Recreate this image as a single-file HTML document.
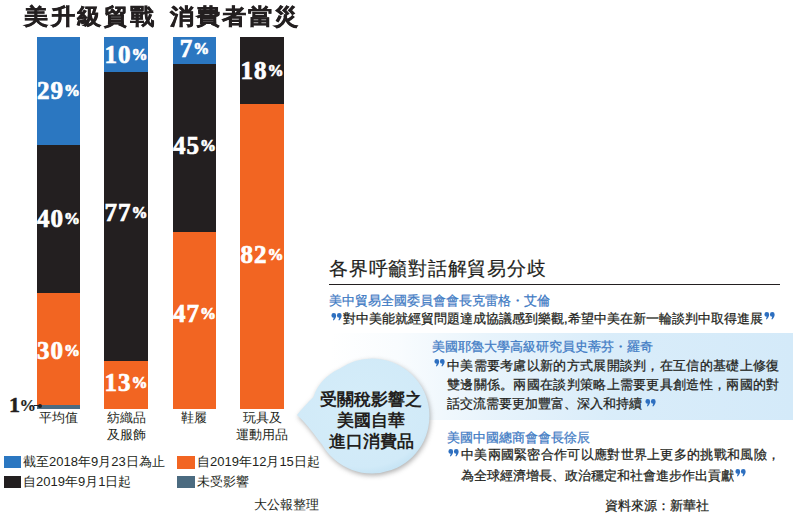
<!DOCTYPE html>
<html><head><meta charset="utf-8">
<style>
html,body{margin:0;padding:0;}
body{width:800px;height:523px;overflow:hidden;background:#fff;position:relative;font-family:"Liberation Sans",sans-serif;color:#231f20;}
.a{position:absolute;white-space:nowrap;}
.bar{position:absolute;top:37px;width:44px;height:372px;}
.seg{position:absolute;left:0;width:100%;}
.b{background:#2b77c1;}
.k{background:#231f20;}
.o{background:#f26522;}
.g{background:#4b6b80;}
.pct{position:absolute;left:0;width:100%;text-align:center;color:#fff;font-family:"Liberation Serif",serif;font-weight:bold;font-size:25px;line-height:20px;letter-spacing:1px;-webkit-text-stroke:0.7px #fff;}
.pct span{font-size:16px;position:relative;top:-3px;letter-spacing:0;}
.lab{position:absolute;text-align:center;font-size:13px;line-height:16.5px;color:#231f20;}
.leg{position:absolute;font-size:13px;line-height:14px;color:#231f20;}
.bl{font-size:13px;line-height:18px;color:#3f7bc4;-webkit-text-stroke:0.25px #3f7bc4;}
.tx{font-size:13px;line-height:18px;color:#231f20;-webkit-text-stroke:0.25px #231f20;}
.ttl{transform:scaleY(0.91);transform-origin:0 5px;top:2px;font-size:24px;letter-spacing:2.5px;font-weight:bold;line-height:32px;-webkit-text-stroke:0.6px #231f20;color:#231f20;}
.sq{position:absolute;width:17px;height:12px;}
</style></head><body>
<div class="a ttl" style="left:24px;">美升級貿戰</div><div class="a ttl" style="left:170px;letter-spacing:2.1px;">消費者當災</div>

<!-- bar 1 -->
<div class="bar" style="left:37px;width:43px;">
  <div class="seg b" style="top:0;height:108px;"></div>
  <div class="seg k" style="top:108px;height:148px;"></div>
  <div class="seg o" style="top:256px;height:112px;"></div>
  <div class="seg g" style="top:368px;height:4px;"></div>
  <div class="pct" style="top:44px;">29<span>%</span></div>
  <div class="pct" style="top:172px;">40<span>%</span></div>
  <div class="pct" style="top:304px;">30<span>%</span></div>
</div>
<!-- bar 2 -->
<div class="bar" style="left:104px;">
  <div class="seg b" style="top:0;height:35px;"></div>
  <div class="seg k" style="top:35px;height:289px;"></div>
  <div class="seg o" style="top:324px;height:48px;"></div>
  <div class="pct" style="top:8px;">10<span>%</span></div>
  <div class="pct" style="top:166px;">77<span>%</span></div>
  <div class="pct" style="top:336px;">13<span>%</span></div>
</div>
<!-- bar 3 -->
<div class="bar" style="left:173px;width:43px;">
  <div class="seg b" style="top:0;height:27px;"></div>
  <div class="seg k" style="top:27px;height:168px;"></div>
  <div class="seg o" style="top:195px;height:177px;"></div>
  <div class="pct" style="top:2px;">7<span>%</span></div>
  <div class="pct" style="top:99px;">45<span>%</span></div>
  <div class="pct" style="top:267px;">47<span>%</span></div>
</div>
<!-- bar 4 -->
<div class="bar" style="left:240px;">
  <div class="seg k" style="top:0;height:67px;"></div>
  <div class="seg o" style="top:67px;height:305px;"></div>
  <div class="pct" style="top:24px;">18<span>%</span></div>
  <div class="pct" style="top:208px;">82<span>%</span></div>
</div>

<!-- 1% label -->
<div class="a" style="left:9px;top:396px;font-family:'Liberation Serif',serif;font-weight:bold;font-size:22px;line-height:18px;color:#231f20;-webkit-text-stroke:0.5px #231f20;">1<span style="font-size:16.5px;position:relative;top:-1px;margin-left:-0.5px;-webkit-text-stroke:0.2px #231f20;">%</span></div>
<div class="a" style="left:34px;top:405px;width:6px;height:1px;background:#231f20;"></div>
<div class="a" style="left:38px;top:403.5px;width:4px;height:4px;border-radius:50%;background:#231f20;"></div>
<!-- bar labels -->
<div class="lab" style="left:28px;top:410px;width:60px;">平均值</div>
<div class="lab" style="left:96px;top:410px;width:60px;">紡織品<br>及服飾</div>
<div class="lab" style="left:164px;top:410px;width:60px;">鞋履</div>
<div class="lab" style="left:232px;top:410px;width:60px;">玩具及<br>運動用品</div>

<!-- legend -->
<div class="sq b" style="left:4px;top:456px;"></div>
<div class="leg" style="left:23px;top:455px;">截至2018年9月23日為止</div>
<div class="sq k" style="left:4px;top:476px;"></div>
<div class="leg" style="left:23px;top:475px;">自2019年9月1日起</div>
<div class="sq o" style="left:177px;top:456px;width:18px;height:12.5px;"></div>
<div class="leg" style="left:197px;top:455px;">自2019年12月15日起</div>
<div class="sq g" style="left:177px;top:476px;width:18px;"></div>
<div class="leg" style="left:197px;top:475px;">未受影響</div>
<div class="leg" style="left:254px;top:498px;">大公報整理</div>

<svg width="0" height="0" style="position:absolute"><defs><g id="q" fill="#2d6fc0"><path d="M2.8 0.1A2.35 2.35 0 0 1 5.1499999999999995 2.45C5.1499999999999995 4.6 4.0 6.2 2.5999999999999996 7.4L1.9000000000000001 7.0C2.4 6.2 2.5999999999999996 5.5 2.6999999999999997 4.8A2.35 2.35 0 0 1 2.8 0.1Z"/><path d="M8.3 0.1A2.35 2.35 0 0 1 10.649999999999999 2.45C10.649999999999999 4.6 9.5 6.2 8.1 7.4L7.4 7.0C7.9 6.2 8.1 5.5 8.2 4.8A2.35 2.35 0 0 1 8.3 0.1Z"/></g></defs></svg>
<!-- right panel glow -->
<div class="a" style="left:330px;top:333px;width:463px;height:87px;background:linear-gradient(90deg,rgba(212,234,249,0) 0%,rgba(212,234,249,0.15) 15%,rgba(212,234,249,0.55) 35%,rgba(212,234,249,0.88) 60%,#d4eaf9 100%);"></div>

<div class="a" id="rt" style="left:329px;top:256px;font-size:19px;letter-spacing:0.75px;line-height:26px;color:#231f20;-webkit-text-stroke:0.2px #231f20;">各界呼籲對話解貿易分歧</div>
<div class="a" style="left:329px;top:283.5px;width:451px;height:1.5px;background:#231f20;"></div>

<div class="a bl" style="left:329px;top:292px;">美中貿易全國委員會會長克雷格・艾倫</div>
<svg class="a" style="left:331px;top:313px;" width="11" height="7.5" viewBox="0 0 11 7.5"><use href="#q"/></svg>
<div class="a tx" style="left:343px;top:310px;">對中美能就經貿問題達成協議感到樂觀,希望中美在新一輪談判中取得進展</div>
<svg class="a" style="left:764px;top:312px;" width="11" height="7.5" viewBox="0 0 11 7.5"><use href="#q"/></svg>

<div class="a bl" style="left:432px;top:338px;">美國耶魯大學高級研究員史蒂芬・羅奇</div>
<svg class="a" style="left:434px;top:359px;" width="11" height="7.5" viewBox="0 0 11 7.5"><use href="#q"/></svg>
<div class="a tx" style="left:447px;top:357px;letter-spacing:0.3px;line-height:18.75px;">中美需要考慮以新的方式展開談判，在互信的基礎上修復<br>雙邊關係。兩國在談判策略上需要更具創造性，兩國的對<br><span style="letter-spacing:0">話交流需要更加豐富、深入和持續</span></div>
<svg class="a" style="left:645px;top:399px;" width="11" height="7.5" viewBox="0 0 11 7.5"><use href="#q"/></svg>

<div class="a bl" style="left:447px;top:428.5px;">美國中國總商會會長徐辰</div>
<svg class="a" style="left:448px;top:449px;" width="11" height="7.5" viewBox="0 0 11 7.5"><use href="#q"/></svg>
<div class="a tx" style="left:461px;top:443.5px;letter-spacing:0.3px;line-height:21px;">中美兩國緊密合作可以應對世界上更多的挑戰和風險，<br><span style="letter-spacing:0">為全球經濟增長、政治穩定和社會進步作出貢獻</span></div>
<svg class="a" style="left:735px;top:469px;" width="11" height="7.5" viewBox="0 0 11 7.5"><use href="#q"/></svg>

<div class="a tx" style="left:605px;top:497px;">資料來源：新華社</div>

<!-- bubble -->
<svg class="a" style="left:280px;top:345px;overflow:visible;filter:drop-shadow(1.5px 2.5px 2.5px rgba(80,80,80,0.45));" width="160" height="140" viewBox="280 345 160 140">
  <defs>
    <radialGradient id="bg" cx="0.5" cy="0.45" r="0.55">
      <stop offset="0" stop-color="#d5edf9"/>
      <stop offset="0.9" stop-color="#d1eaf8"/>
      <stop offset="1" stop-color="#c8e5f5"/>
    </radialGradient>
  </defs>
  <path d="M372 358.5 A57.5 57.5 0 1 1 322 444.5 C316 437 308 425 297 415 C302 409 308 402 313.6 397 C317 385 326 375 340 368.5 A57.5 57.5 0 0 1 372 358.5 Z" fill="url(#bg)"/>
</svg>
<div class="a" style="left:314px;top:389px;width:114px;text-align:center;white-space:normal;font-size:16.5px;font-weight:bold;line-height:21px;color:#231f20;">受關稅影響之<br>美國自華<br>進口消費品</div>
</body></html>
